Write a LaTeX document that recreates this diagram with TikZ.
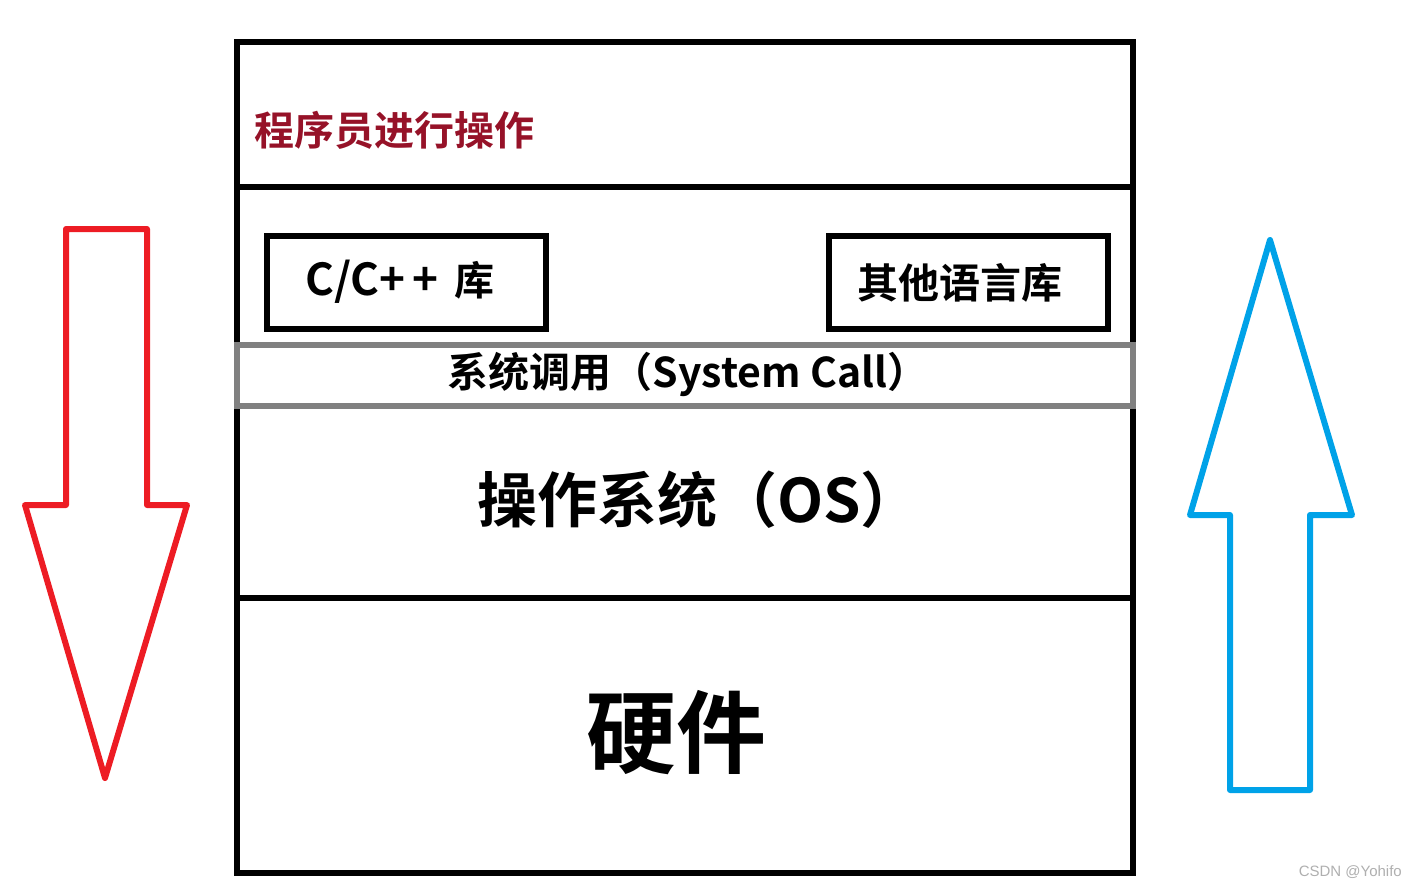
\documentclass[tikz,border=0pt]{standalone}
\usepackage{fontspec}
\newfontfamily\cjk{Noto Sans CJK SC}[BoldFont={Noto Sans CJK SC Bold}]
\newfontfamily\wm{Liberation Sans}
\definecolor{progred}{RGB}{150,18,40}
\definecolor{arrred}{RGB}{237,28,36}
\definecolor{arrblue}{RGB}{0,162,232}
\definecolor{bandgray}{RGB}{128,128,128}
\definecolor{wmgray}{RGB}{175,175,175}
\tikzset{
  frame/.style={draw=black,line width=6.5pt},
  libbox/.style={draw=black,line width=6.5pt},
  band/.style={draw=bandgray,line width=6.5pt},
  bigarrow/.style={line width=6pt,line join=round},
  lbl/.style={inner sep=0pt,anchor=center,font=\cjk\bfseries},
}
\begin{document}
\begin{tikzpicture}[x=1pt,y=-1pt]
\useasboundingbox (0,0) rectangle (1422,889);
% outer frame and separators
\draw[frame] (237,42) rectangle (1133,873);
\draw[frame] (237,187) -- (1133,187);
\draw[frame] (237,598) -- (1133,598);
% library boxes
\draw[libbox] (267,236) rectangle (546,329);
\draw[libbox] (829,236) rectangle (1108,329);
% system call band
\draw[band] (237,345) rectangle (1133,406);
% texts
\node[lbl,text=progred,font=\cjk\bfseries\fontsize{40}{40}\selectfont,anchor=west] (prog) at (254,130) {程序员进行操作};
\node[lbl,font=\cjk\bfseries\fontsize{40}{40}\selectfont,anchor=west] (clib) at (305,282) {{\fontsize{44}{44}\selectfont C/C+\kern7pt+}\kern16pt 库};
\node[lbl,font=\cjk\bfseries\fontsize{41}{41}\selectfont] (olib) at (960,283) {其他语言库};
\node[lbl,font=\cjk\bfseries\fontsize{41}{41}\selectfont] (sys) at (688,374) {系统调用（System Call）};
\node[lbl,font=\cjk\bfseries\fontsize{60}{60}\selectfont] (os) at (699,500) {操作系统（OS）};
\node[lbl,font=\cjk\bfseries\fontsize{90}{90}\selectfont] (hw) at (676,733) {硬件};
\node[inner sep=0pt,anchor=east,text=wmgray,font=\wm\fontsize{15}{15}\selectfont] (wm) at (1402,872) {CSDN @Yohifo};
% arrows
\draw[bigarrow,draw=arrred] (66,229) -- (147,229) -- (147,505) -- (187,505) -- (105,778) -- (25,505) -- (66,505) -- cycle;
\draw[bigarrow,draw=arrblue] (1230,790) -- (1310,790) -- (1310,515) -- (1352,515) -- (1270,240) -- (1190,515) -- (1230,515) -- cycle;
\end{tikzpicture}
\end{document}
